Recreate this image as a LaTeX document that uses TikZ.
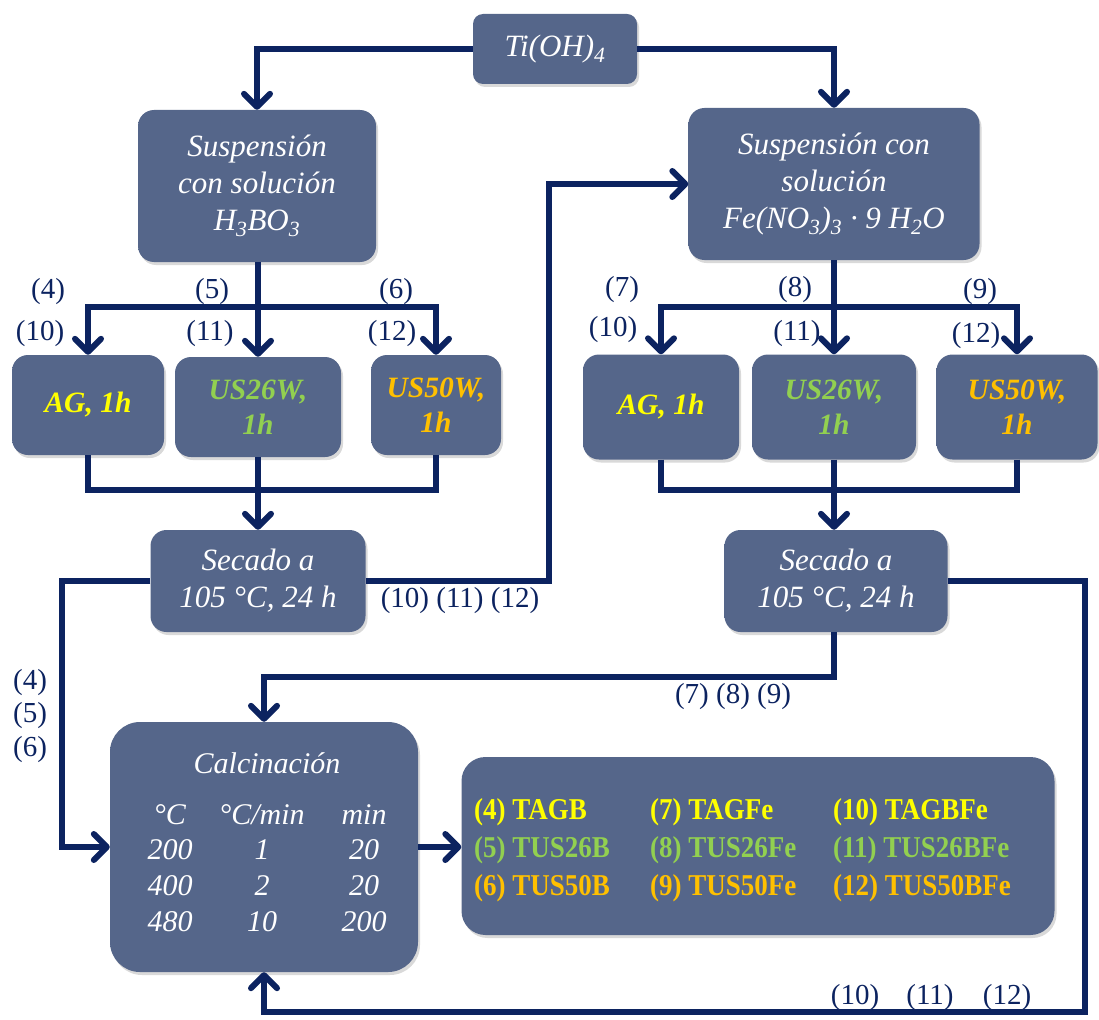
\documentclass[tikz,border=0pt]{standalone}
\usepackage{fontspec}
\usepackage{graphicx}
\setmainfont{Liberation Serif}
\usetikzlibrary{arrows.meta,shadows}
\definecolor{navy}{HTML}{0C2360}
\definecolor{boxc}{HTML}{55668A}
\definecolor{boxt}{HTML}{94A8CA}
\definecolor{boxb}{HTML}{4A5977}
\definecolor{ylw}{HTML}{FFFF00}
\definecolor{grn}{HTML}{92D050}
\definecolor{org}{HTML}{FFC000}
\pgfdeclareverticalshading{boxshade}{100bp}{color(0bp)=(boxb); color(12bp)=(boxc); color(84bp)=(boxc); color(95bp)=(boxt!75!boxc); color(100bp)=(boxt)}
\begin{document}
\begin{tikzpicture}[x=1pt,y=-1pt,
  box/.style={draw=none, rounded corners=16pt, shading=boxshade,
    text=white, font=\itshape\fontsize{31}{37}\selectfont, align=center, inner sep=0pt,
    drop shadow={opacity=0.3, shadow xshift=2pt, shadow yshift=-3pt}},
  sbox/.style={box, font=\bfseries\itshape\fontsize{29.5}{35}\selectfont},
  line/.style={draw=navy, line width=6pt},
  flow/.style={line, -{Straight Barb[length=13pt,width=26pt,round]}},
  lab/.style={text=navy, font=\fontsize{29}{31}\selectfont, inner sep=0pt},
  ctxt/.style={text=white, font=\itshape\fontsize{30}{34}\selectfont, inner sep=0pt},
  rt/.style={font=\bfseries\fontsize{27}{30}\selectfont, anchor=west, inner sep=0pt}]
\useasboundingbox (0,0) rectangle (1099,1019);

% boxes
\node[box, minimum width=164pt, minimum height=70pt, rounded corners=10pt] (ti) at (555,49) {Ti(OH)\textsubscript{4}};
\node[box, minimum width=238pt, minimum height=152pt] (ls) at (257,186) {Suspensión\\con solución\\H\textsubscript{3}BO\textsubscript{3}};
\node[box, minimum width=291pt, minimum height=152pt] (rs) at (834,184) {Suspensión con\\solución\\Fe(NO\textsubscript{3})\textsubscript{3} · 9 H\textsubscript{2}O};

\node[sbox, minimum width=152pt, minimum height=100pt, text=ylw] (l1) at (88,405) {AG, 1h};
\node[sbox, minimum width=166pt, minimum height=100pt, text=grn] (l2) at (258,407) {US26W,\\1h};
\node[sbox, minimum width=130pt, minimum height=100pt, text=org] (l3) at (436,405) {US50W,\\1h};

\node[sbox, minimum width=156pt, minimum height=105pt, text=ylw] (r1) at (661,407) {AG, 1h};
\node[sbox, minimum width=164pt, minimum height=105pt, text=grn] (r2) at (834,407) {US26W,\\1h};
\node[sbox, minimum width=161pt, minimum height=105pt, text=org] (r3) at (1017,407) {US50W,\\1h};

\node[box, minimum width=215pt, minimum height=102pt] (lsec) at (258,581) {Secado a\\105 °C, 24 h};
\node[box, minimum width=223pt, minimum height=102pt] (rsec) at (836,581) {Secado a\\105 °C, 24 h};

\node[box, minimum width=308pt, minimum height=250pt, rounded corners=30pt] (calc) at (264,847) {};
\node[ctxt] (ct) at (267,763) {Calcinación};
\node[ctxt] (c11) at (170,815) {°C};
\node[ctxt] (c12) at (262,815) {°C/min};
\node[ctxt] (c13) at (364,815) {min};
\node[ctxt] (c21) at (170,850) {200};
\node[ctxt] (c22) at (262,850) {1};
\node[ctxt] (c23) at (364,850) {20};
\node[ctxt] (c31) at (170,886) {400};
\node[ctxt] (c32) at (262,886) {2};
\node[ctxt] (c33) at (364,886) {20};
\node[ctxt] (c41) at (170,922) {480};
\node[ctxt] (c42) at (262,922) {10};
\node[ctxt] (c43) at (364,922) {200};

\node[box, minimum width=593pt, minimum height=178pt, rounded corners=24pt] (res) at (758,846) {};
\node[rt, text=ylw] (r11) at (474,812) {\scalebox{1}[1.12]{(4) TAGB}};
\node[rt, text=ylw] (r12) at (650,812) {\scalebox{1}[1.12]{(7) TAGFe}};
\node[rt, text=ylw] (r13) at (833,812) {\scalebox{1}[1.12]{(10) TAGBFe}};
\node[rt, text=grn] (r21) at (474,850) {\scalebox{1}[1.12]{(5) TUS26B}};
\node[rt, text=grn] (r22) at (650,850) {\scalebox{1}[1.12]{(8) TUS26Fe}};
\node[rt, text=grn] (r23) at (833,850) {\scalebox{1}[1.12]{(11) TUS26BFe}};
\node[rt, text=org] (r31) at (474,888) {\scalebox{1}[1.12]{(6) TUS50B}};
\node[rt, text=org] (r32) at (650,888) {\scalebox{1}[1.12]{(9) TUS50Fe}};
\node[rt, text=org] (r33) at (833,888) {\scalebox{1}[1.12]{(12) TUS50BFe}};

% connectors
\draw[flow] (ti.west) -| (ls.north);
\draw[flow] (ti.east) -| (rs.north);

\coordinate (lj) at (258,307);
\coordinate (lm) at (258,490);
\draw[flow] (ls.south -| lj) -- (l2.north);
\draw[flow] (lj) -| (l1.north);
\draw[flow] (lj) -| (l3.north);
\draw[line] (l1.south) |- (lm);
\draw[line] (l3.south) |- (lm);
\draw[line] (l2.south) -- (lm);
\draw[flow] (lm) -- (lsec.north);

\coordinate (rj) at (834,307);
\coordinate (rm) at (834,490);
\draw[flow] (rs.south) -- (r2.north);
\draw[flow] (rj) -| (r1.north);
\draw[flow] (rj) -| (r3.north);
\draw[line] (r1.south) |- (rm);
\draw[line] (r3.south) |- (rm);
\draw[line] (r2.south) -- (rm);
\draw[flow] (rm) -- (rm |- rsec.north);

\draw[flow] (lsec.west) -- ++(-88,0) |- (calc.west);
\draw[flow] (lsec.east) -- ++(183,0) |- (rs.west);
\draw[flow] (rsec.south -| rm) -- ++(0,45) -| (calc.north);
\draw[flow] (rsec.east) -- ++(137,0) -- ++(0,431) -| (calc.south);
\draw[flow] (calc.east) -- (calc.east -| res.west);

% labels
\node[lab] (a4) at (48,292) {(4)};
\node[lab] (a5) at (212,292) {(5)};
\node[lab] (a6) at (396,292) {(6)};
\node[lab] (a10) at (40,334) {(10)};
\node[lab] (a11) at (210,334) {(11)};
\node[lab] (a12) at (392,334) {(12)};
\node[lab] (b7) at (622,290) {(7)};
\node[lab] (b8) at (795,290) {(8)};
\node[lab] (b9) at (980,292) {(9)};
\node[lab] (b10) at (613,330) {(10)};
\node[lab] (b11) at (797,334) {(11)};
\node[lab] (b12) at (976,336) {(12)};
\node[lab] (m1) at (460,601) {(10) (11) (12)};
\node[lab] (m2) at (733,697) {(7) (8) (9)};
\node[lab] (s4) at (30,683) {(4)};
\node[lab] (s5) at (30,716) {(5)};
\node[lab] (s6) at (30,750) {(6)};
\node[lab] (d10) at (855,998) {(10)};
\node[lab] (d11) at (930,998) {(11)};
\node[lab] (d12) at (1007,998) {(12)};
\end{tikzpicture}
\end{document}
